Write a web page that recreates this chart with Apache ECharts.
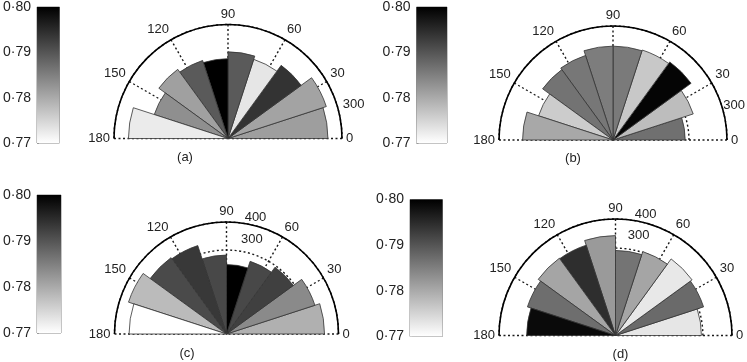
<!DOCTYPE html>
<html><head><meta charset="utf-8">
<script src="https://cdn.jsdelivr.net/npm/echarts@6/dist/echarts.min.js"></script>
<style>html,body{margin:0;padding:0;background:#fff}#c{width:747px;height:362px}</style>
</head><body><div id="c"></div>
<script>
// ---------- data ----------
const binLabels = ['0-18','18-36','36-54','54-72','72-90','90-108','108-126','126-144','144-162','162-180'];
const angleTicks = [0, 30, 60, 90, 120, 150, 180];
const colorbarTicks = [0.77, 0.78, 0.79, 0.80];
const panelNames = ['(a)', '(b)', '(c)', '(d)'];
const radialMax = [300, 300, 400, 400];

const radiusA = [263, 272, 238, 219, 228, 210, 216, 225, 204, 262];
const shadeA  = [0.7814, 0.7808, 0.7940, 0.7729, 0.7894, 0.8000, 0.7894, 0.7812, 0.7832, 0.7724];
const radiusB = [190, 222, 254, 249, 247, 247, 234, 229, 206, 238];
const shadeB  = [0.7868, 0.7778, 0.7994, 0.7765, 0.7856, 0.7853, 0.7860, 0.7865, 0.7760, 0.7802];
const radiusC = [350, 332, 295, 273, 248, 282, 332, 337, 368, 348];
const shadeC  = [0.7793, 0.7838, 0.7925, 0.7915, 0.8000, 0.7915, 0.7934, 0.7913, 0.7780, 0.7700];
const radiusD = [295, 318, 325, 303, 292, 343, 326, 328, 318, 305];
const shadeD  = [0.7729, 0.7875, 0.7727, 0.7806, 0.7864, 0.7819, 0.7946, 0.7806, 0.7871, 0.7988];

// radial tick labels shown on each panel: [label value, angle where drawn, radius factor]
const radialLabelsA = [[300, 15, 1.14]];
const radialLabelsB = [[300, 16, 1.105]];
const radialLabelsC = [[400, 76, 1.07], [300, 75, 0.875]];
const radialLabelsD = [[400, 76, 1.07], [300, 77, 0.885]];

// ---------- layout ----------
const radii = [radiusA, radiusB, radiusC, radiusD];
const shades = [shadeA, shadeB, shadeC, shadeD];
const radialLabels = [radialLabelsA, radialLabelsB, radialLabelsC, radialLabelsD];
const polarLayout = [
  {center: [228, 138.5], r: 114},
  {center: [613, 140], r: 114},
  {center: [226.5, 334], r: 112},
  {center: [615.5, 335.5], r: 116.5}
];
const cbarLayout = [
  {left: 29.5, top: 6, width: 30, height: 137},
  {left: 416.5, top: 5, width: 30.5, height: 138},
  {left: 32.5, top: 195, width: 28.5, height: 138},
  {left: 410, top: 199.5, width: 32.5, height: 137}
];
const captionPos = [[185, 157], [573, 158], [187, 353], [620.5, 354]];

const FONT = '"Liberation Sans", Arial, sans-serif';
const TXT = '#222';
const dotted = {type: [2, 2.5], color: '#1a1a1a', width: 1.4};
const cbMin = colorbarTicks[0], cbMax = colorbarTicks[colorbarTicks.length - 1];
const grayRamp = ['#ffffff', '#000000'];

const polar = [], angleAxis = [], radiusAxis = [], series = [], grid = [], xAxis = [], yAxis = [];
const barSeriesIdx = [];

for (let p = 0; p < 4; p++) {
  const L = polarLayout[p];
  // polar for bars (category angle axis)
  polar.push({center: L.center, radius: [0, L.r]});
  angleAxis.push({polarIndex: 2 * p, type: 'category', data: binLabels, startAngle: 0, endAngle: 180,
    clockwise: false, boundaryGap: true, axisLine: {show: false}, axisTick: {show: false},
    axisLabel: {show: false}, splitLine: {show: false}, splitArea: {show: false}});
  radiusAxis.push({polarIndex: 2 * p, type: 'value', min: 0, max: radialMax[p], show: false,
    axisLine: {show: false}, axisLabel: {show: false}, axisTick: {show: false}, splitLine: {show: false}});
  // polar for grid lines & angle labels
  polar.push({center: L.center, radius: [0, L.r]});
  angleAxis.push({polarIndex: 2 * p + 1, type: 'value', min: angleTicks[0], max: angleTicks[angleTicks.length - 1],
    interval: 30, startAngle: 0, endAngle: 180, clockwise: false,
    axisLine: {show: true, lineStyle: {color: '#000', width: 1.6}},
    axisTick: {show: false},
    axisLabel: {show: true, color: TXT, fontSize: 13, fontFamily: FONT, margin: 4},
    splitLine: {show: true, lineStyle: dotted}, splitArea: {show: false}});
  radiusAxis.push({polarIndex: 2 * p + 1, type: 'value', min: 0, max: radialMax[p], interval: 100,
    axisLine: {show: false}, axisTick: {show: false}, axisLabel: {show: false},
    splitLine: {show: true, lineStyle: dotted}, splitArea: {show: false}});

  barSeriesIdx.push(series.length);
  series.push({type: 'bar', coordinateSystem: 'polar', polarIndex: 2 * p,
    data: radii[p].map((r, i) => [r, i, shades[p][i]]),
    encode: {radius: 0, angle: 1},
    barCategoryGap: '0%', z: 3,
    itemStyle: {borderColor: '#333', borderWidth: 0.8},
    animation: false});

  // colorbar
  const C = cbarLayout[p];
  grid.push({left: C.left, top: C.top, width: C.width, height: C.height, show: true,
    borderColor: '#8a8a8a', borderWidth: 1, backgroundColor: 'transparent'});
  xAxis.push({gridIndex: p, type: 'category', data: [''], show: false});
  yAxis.push({gridIndex: p, type: 'value', min: cbMin, max: cbMax, interval: 0.01,
    axisLine: {show: false}, splitLine: {show: false},
    axisTick: {show: true, inside: true, length: 2, lineStyle: {color: '#999'}},
    axisLabel: {color: TXT, fontSize: 14, fontFamily: FONT, margin: 6,
      formatter: v => v.toFixed(2).replace('.', '\u00b7')}});
  series.push({type: 'line', xAxisIndex: p, yAxisIndex: p, data: [], silent: true, animation: false,
    markArea: {silent: true, animation: false,
      itemStyle: {color: {type: 'linear', x: 0, y: 0, x2: 0, y2: 1,
        colorStops: [{offset: 0, color: grayRamp[1]}, {offset: 1, color: grayRamp[0]}]}},
      data: [[{yAxis: cbMax}, {yAxis: cbMin}]]}});
}

const chart = echarts.init(document.getElementById('c'), null, {renderer: 'canvas'});
chart.setOption({
  animation: false,
  polar, angleAxis, radiusAxis, grid, xAxis, yAxis, series,
  visualMap: [{type: 'continuous', show: false, min: cbMin, max: cbMax, dimension: 2,
    seriesIndex: barSeriesIdx, inRange: {color: grayRamp}}]
});

const graphics = [];
for (let p = 0; p < 4; p++) {
  radialLabels[p].forEach(([val, ang, f]) => {
    const pt = chart.convertToPixel({polarIndex: 2 * p + 1}, [radialMax[p] * f, ang]);
    graphics.push({type: 'text', x: pt[0], y: pt[1], z: 10,
      style: {text: String(val), fill: TXT, font: '13px ' + FONT, textAlign: 'center', textVerticalAlign: 'middle'}});
  });
  graphics.push({type: 'text', x: captionPos[p][0], y: captionPos[p][1], z: 10,
    style: {text: panelNames[p], fill: TXT, font: '13px ' + FONT, textAlign: 'center', textVerticalAlign: 'middle'}});
}
chart.setOption({graphic: graphics});
</script>
</body></html>
